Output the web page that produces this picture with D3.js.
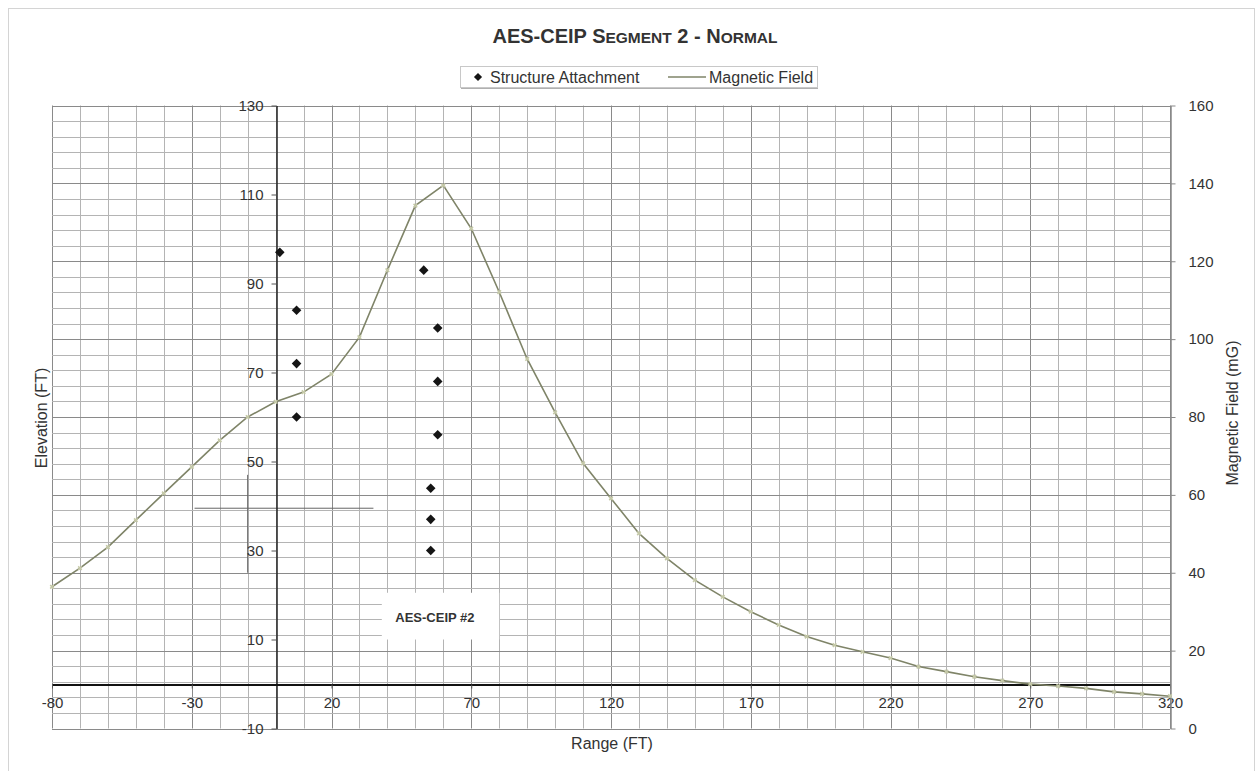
<!DOCTYPE html>
<html>
<head>
<meta charset="utf-8">
<script src="https://cdn.jsdelivr.net/npm/d3@7"></script>
<style>
  body { margin: 0; background: #fff; }
  text { font-family: "Liberation Sans", Arial, sans-serif; fill: #333; }
</style>
</head>
<body>
<svg id="chart" width="1258" height="771"></svg>
<script>
// Lateral range from centreline (ft) and calculated magnetic field (mG)
const rangeFt = [-80, -70, -60, -50, -40, -30, -20, -10, 0, 10, 20, 30, 40, 50, 60, 70, 80, 90, 100,
  110, 120, 130, 140, 150, 160, 170, 180, 190, 200, 210, 220, 230, 240, 250, 260, 270, 280, 290, 300, 310, 320];
const fieldMG = [36.4, 41.2, 46.6, 53.5, 60.4, 67.2, 74.0, 80.0, 83.9, 86.4, 91.0, 100.5, 117.7, 134.3, 139.5,
  128.4, 112.1, 94.9, 81.2, 68.1, 59.1, 50.1, 43.7, 38.1, 33.8, 30.0, 26.6, 23.6, 21.4, 19.7, 18.1,
  15.9, 14.6, 13.3, 12.3, 11.4, 10.9, 10.3, 9.4, 8.9, 8.3];

// Conductor / shield wire attachment points on the structures
const attachRange = [1.5, 7.5, 7.5, 7.5, 53, 58, 58, 58, 55.5, 55.5, 55.5];
const attachElev = [97, 84, 72, 60, 93, 80, 68, 56, 44, 37, 30];

// Axis ticks
const rangeTicks = [-80, -30, 20, 70, 120, 170, 220, 270, 320];
const elevTicks = [-10, 10, 30, 50, 70, 90, 110, 130];
const fieldTicks = [0, 20, 40, 60, 80, 100, 120, 140, 160];

const svg = d3.select("#chart");
const W = 1258, H = 771;
const plot = { left: 52, right: 1170, top: 105.5, bottom: 728.5 };

const x = d3.scaleLinear().domain([-80, 320]).range([plot.left, plot.right]);
const yElev = d3.scaleLinear().domain([-10, 130]).range([plot.bottom, plot.top]);
const yField = d3.scaleLinear().domain([0, 160]).range([plot.bottom, plot.top]);
const plain = d => String(d);   // ASCII hyphen for negatives

// Page frame
svg.append("rect").attr("x", 8.5).attr("y", 8.5).attr("width", W - 12).attr("height", H - 6)
  .attr("fill", "none").attr("stroke", "#d4d4d4");

// Gridlines: vertical every 10 ft, horizontal every 4 mG; majors darker
const grid = svg.append("g").attr("class", "grid");
const vLines = d3.range(-80, 321, 10);
grid.selectAll("line.v").data(vLines).join("line")
  .attr("x1", d => Math.round(x(d)) + 0.5).attr("x2", d => Math.round(x(d)) + 0.5)
  .attr("y1", plot.top).attr("y2", plot.bottom)
  .attr("stroke", d => ((d + 80) % 50 === 0) ? "#8a8a8a" : "#b4b4b4")
  .attr("stroke-width", 1);
const hLines = d3.range(0, 161, 4);
grid.selectAll("line.h").data(hLines).join("line")
  .attr("x1", plot.left).attr("x2", plot.right)
  .attr("y1", d => Math.round(yField(d)) + 0.5).attr("y2", d => Math.round(yField(d)) + 0.5)
  .attr("stroke", d => (d % 20 === 0) ? "#8a8a8a" : "#b4b4b4")
  .attr("stroke-width", 1);

// Structure outline guides
svg.append("line").attr("x1", x(-10)).attr("x2", x(-10)).attr("y1", yElev(47)).attr("y2", yElev(25))
  .attr("stroke", "#666").attr("stroke-width", 1);
svg.append("line").attr("x1", x(-29)).attr("x2", x(35)).attr("y1", yElev(39.5)).attr("y2", yElev(39.5))
  .attr("stroke", "#666").attr("stroke-width", 1);

// Structure name
svg.append("rect").attr("x", x(38)).attr("y", yElev(20.5)).attr("width", x(80) - x(38)).attr("height", yElev(10) - yElev(20.5))
  .attr("fill", "#fff");
svg.append("text").attr("x", x(57)).attr("y", yElev(15)).attr("dy", "0.35em")
  .attr("text-anchor", "middle").attr("font-size", 13).attr("font-weight", "bold").attr("fill", "#3a3a3a")
  .text("AES-CEIP #2");

const styleTicks = g => g.selectAll(".tick text").attr("font-size", 15).attr("fill", "#333")
  .style("font-family", "'Liberation Sans', Arial, sans-serif");

// Left (elevation) axis sits on range = 0
const axL = svg.append("g").attr("transform", `translate(${Math.round(x(0)) + 0.5},0)`)
  .call(d3.axisLeft(yElev).tickValues(elevTicks).tickFormat(plain).tickSize(5).tickSizeOuter(0).tickPadding(8));
axL.select(".domain").attr("stroke", "#222").attr("stroke-width", 1.5);
axL.selectAll(".tick line").attr("stroke", "#555");
styleTicks(axL);

// Bottom (range) axis sits on elevation = 0
const axB = svg.append("g").attr("transform", `translate(0,${Math.round(yElev(0)) + 0.5})`)
  .call(d3.axisBottom(x).tickValues(rangeTicks).tickFormat(plain).tickSize(4).tickSizeOuter(0).tickPadding(9));
axB.select(".domain").attr("stroke", "#111").attr("stroke-width", 1.8);
axB.selectAll(".tick line").attr("stroke", "#555");
styleTicks(axB);

// Right (magnetic field) axis
const axR = svg.append("g").attr("transform", `translate(${Math.round(plot.right) + 0.5},0)`)
  .call(d3.axisRight(yField).tickValues(fieldTicks).tickFormat(plain).tickSize(5).tickSizeOuter(0).tickPadding(13));
axR.select(".domain").attr("stroke", "#888").attr("stroke-width", 1.5);
axR.selectAll(".tick line").attr("stroke", "#888");
styleTicks(axR);

// Magnetic field profile
const line = d3.line().x((d, i) => x(rangeFt[i])).y(d => yField(d));
svg.append("path").datum(fieldMG).attr("d", line)
  .attr("fill", "none").attr("stroke", "#7f8468").attr("stroke-width", 1.6);
svg.append("g").selectAll("path").data(fieldMG).join("path")
  .attr("transform", (d, i) => `translate(${x(rangeFt[i])},${yField(d)}) rotate(45)`)
  .attr("d", d3.symbol(d3.symbolCross, 14))
  .attr("fill", "#c5c9a8");

// Structure attachment points
const diamond = d3.symbol(d3.symbolSquare, 46);
svg.append("g").selectAll("path").data(attachElev).join("path")
  .attr("transform", (d, i) => `translate(${x(attachRange[i])},${yElev(d)}) rotate(45)`)
  .attr("d", diamond)
  .attr("fill", "#151515");

// Axis titles
svg.append("text").attr("transform", `translate(41,${418}) rotate(-90)`)
  .attr("text-anchor", "middle").attr("dy", "0.35em").attr("font-size", 16).text("Elevation (FT)");
svg.append("text").attr("transform", `translate(1232,${413}) rotate(-90)`)
  .attr("text-anchor", "middle").attr("dy", "0.35em").attr("font-size", 16).text("Magnetic Field (mG)");
svg.append("text").attr("x", 612).attr("y", 743).attr("dy", "0.35em")
  .attr("text-anchor", "middle").attr("font-size", 16).text("Range (FT)");

// Title with small capitals
const title = svg.append("text").attr("x", 635).attr("y", 43).attr("text-anchor", "middle")
  .attr("font-weight", "bold").attr("fill", "#333");
[["AES-CEIP S", 20], ["EGMENT", 15.5], [" 2 - N", 20], ["ORMAL", 15.5]].forEach(([t, s]) =>
  title.append("tspan").attr("font-size", s).text(t));

// Legend
const lg = svg.append("g");
lg.append("rect").attr("x", 460.5).attr("y", 66.5).attr("width", 357).attr("height", 21)
  .attr("fill", "#fff").attr("stroke", "#c8c8c8");
lg.append("line").attr("x1", 461).attr("x2", 818).attr("y1", 88.5).attr("y2", 88.5).attr("stroke", "#b0b0b0");
lg.append("path").attr("transform", "translate(478,77) rotate(45)").attr("d", d3.symbol(d3.symbolSquare, 34)).attr("fill", "#151515");
lg.append("text").attr("x", 490).attr("y", 77).attr("dy", "0.35em").attr("font-size", 16).text("Structure Attachment");
lg.append("line").attr("x1", 668).attr("x2", 706).attr("y1", 77).attr("y2", 77).attr("stroke", "#7f8468").attr("stroke-width", 1.6);
lg.append("text").attr("x", 709).attr("y", 77).attr("dy", "0.35em").attr("font-size", 16).text("Magnetic Field");
</script>
</body>
</html>
